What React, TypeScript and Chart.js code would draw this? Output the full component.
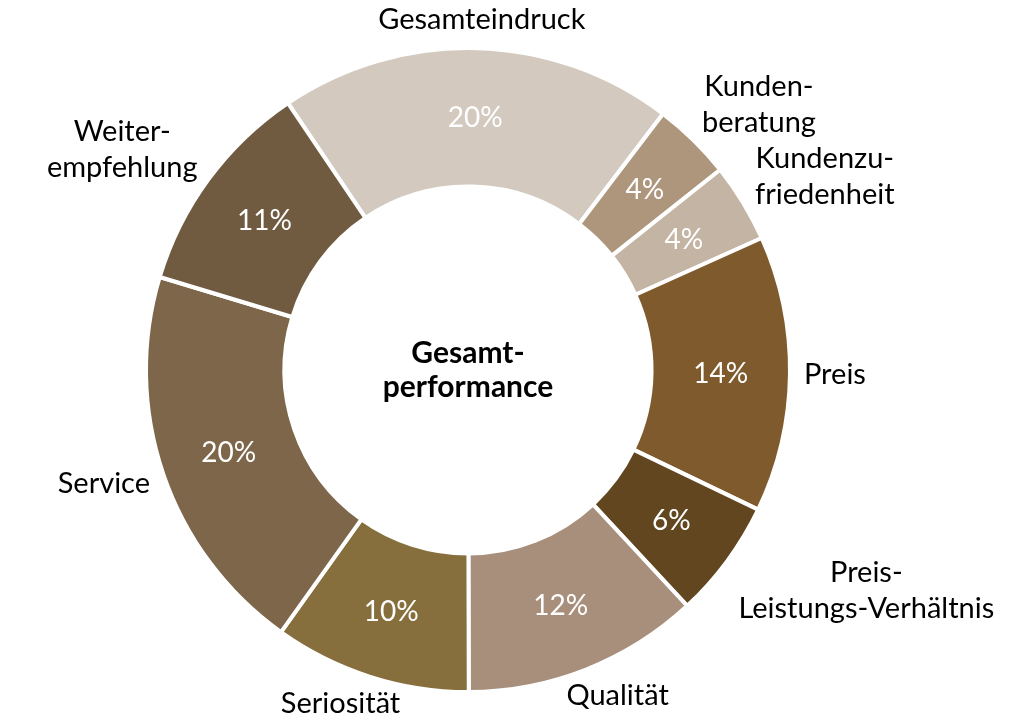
import React, { useEffect, useRef } from "react";
import { Chart, registerables } from "chart.js";

Chart.register(...registerables);

const categories = [
  "Gesamteindruck",
  "Kundenberatung",
  "Kundenzufriedenheit",
  "Preis",
  "Preis-Leistungs-Verhältnis",
  "Qualität",
  "Seriosität",
  "Service",
  "Weiterempfehlung",
];
const labelLines = [
  ["Gesamteindruck"],
  ["Kunden-", "beratung"],
  ["Kundenzu-", "friedenheit"],
  ["Preis"],
  ["Preis-", "Leistungs-Verhältnis"],
  ["Qualität"],
  ["Seriosität"],
  ["Service"],
  ["Weiter-", "empfehlung"],
];
const shares = [20, 4, 4, 14, 6, 12, 10, 20, 11];
const colors = [
  "#d3c9bf",
  "#ad967c",
  "#c4b4a3",
  "#7f5a2c",
  "#624620",
  "#a88f7c",
  "#876f3d",
  "#7d664a",
  "#705a40",
];
const centerTitle = ["Gesamt-", "performance"];

const FONT = "Lato, 'Open Sans', sans-serif";

const labelPlugin = {
  id: "ringLabels",
  afterDatasetsDraw(chart: any) {
    const ctx = chart.ctx as CanvasRenderingContext2D;
    const meta = chart.getDatasetMeta(0);
    ctx.save();
    ctx.textAlign = "center";
    ctx.textBaseline = "middle";
    let cxAll = 0;
    let cyAll = 0;
    meta.data.forEach((arc: any, i: number) => {
      const p = arc.getProps(["x", "y", "startAngle", "endAngle", "innerRadius", "outerRadius"], true);
      cxAll = p.x;
      cyAll = p.y;
      const mid = (p.startAngle + p.endAngle) / 2;
      const rMid = (p.innerRadius + p.outerRadius) / 2;
      ctx.font = `28px ${FONT}`;
      ctx.fillStyle = "#ffffff";
      ctx.fillText(`${shares[i]}%`, p.x + Math.cos(mid) * rMid, p.y + Math.sin(mid) * rMid + 1);

      const lines = labelLines[i];
      const lineH = 36;
      ctx.font = `29px ${FONT}`;
      ctx.fillStyle = "#000000";
      const w = Math.max(...lines.map((l) => ctx.measureText(l).width));
      const h = lines.length === 1 ? 29 : lines.length * lineH;
      const ra = p.outerRadius + 14;
      const ax = p.x + Math.cos(mid) * ra;
      const ay = p.y + Math.sin(mid) * ra;
      const fx = Math.max(-1, Math.min(1, Math.cos(mid) * 1.4));
      const bx = ax + (fx * w) / 2;
      const by = ay + (Math.sin(mid) * h) / 2;
      lines.forEach((l, j) => {
        ctx.fillText(l, bx, by - (lines.length * lineH) / 2 + lineH * (j + 0.5));
      });
    });
    ctx.font = `bold 30px ${FONT}`;
    ctx.fillStyle = "#000000";
    const lh = 34;
    centerTitle.forEach((l, j) => {
      ctx.fillText(l, cxAll, cyAll - (centerTitle.length * lh) / 2 + lh * (j + 0.5));
    });
    ctx.restore();
  },
};

export default function App() {
  const ref = useRef<HTMLCanvasElement>(null);
  useEffect(() => {
    document.body.style.margin = "0";
    const chart = new Chart(ref.current!, {
      type: "doughnut",
      data: {
        labels: categories,
        datasets: [
          {
            data: shares,
            backgroundColor: colors,
            borderColor: "#ffffff",
            borderWidth: 4,
          },
        ],
      },
      options: {
        animation: false,
        responsive: false,
        maintainAspectRatio: false,
        rotation: -34,
        cutout: "57%",
        layout: { padding: { left: 144, right: 218, top: 46, bottom: 26 } },
        plugins: { legend: { display: false }, tooltip: { enabled: false } },
      },
      plugins: [labelPlugin],
    });
    return () => chart.destroy();
  }, []);
  return (
    <div style={{ position: "absolute", left: 0, top: 0, width: 1010, height: 720, background: "#fff" }}>
      <canvas ref={ref} width={1010} height={720} style={{ width: 1010, height: 720 }} />
    </div>
  );
}
